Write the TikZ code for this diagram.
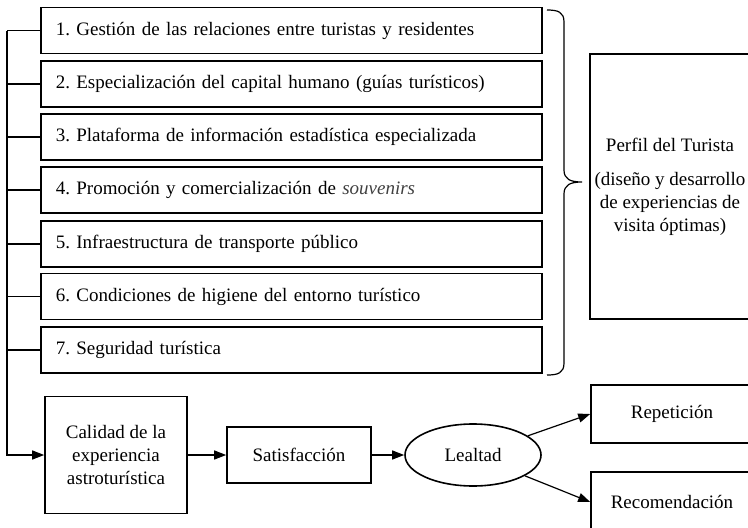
\documentclass[tikz,border=0pt]{standalone}
\usepackage{fontspec}
\setmainfont{Liberation Serif}
\frenchspacing
\usetikzlibrary{arrows.meta,shapes.geometric}
\begin{document}
\begin{tikzpicture}[x=1pt,y=-1pt,
  font=\fontsize{19}{23}\selectfont,
  box/.style={draw,line width=1.6pt,inner sep=0pt},
  item/.style={box,anchor=west,minimum width=501pt,minimum height=46pt,text width=471pt,inner xsep=15pt,align=left},
  conn/.style={line width=1.2pt},
  arr/.style={conn,-{Triangle[length=12pt,width=9pt]}}]
\useasboundingbox (0,0) rectangle (748,528);
\clip (0,0) rectangle (748,528);
% items
\node[item] (i1) at (40,30.5) {1. Gestión de las relaciones entre turistas y residentes};
\node[item] (i2) at (40,84) {2. Especialización del capital humano (guías turísticos)};
\node[item] (i3) at (40,137) {3. Plataforma de información estadística especializada};
\node[item] (i4) at (40,190) {4. Promoción y comercialización de \textcolor{black!75}{\textit{souvenirs}}};
\node[item] (i5) at (40,244) {5. Infraestructura de transporte público};
\node[item] (i6) at (40,296.5) {6. Condiciones de higiene del entorno turístico};
\node[item] (i7) at (40,350) {7. Seguridad turística};
% profile
\node[box,minimum width=160pt,minimum height=265pt,align=center] (perfil) at (670,186.5)
  {Perfil del Turista\\[11pt]\fontsize{19}{21.5}\selectfont (diseño y desarrollo\\ de experiencias de\\ visita óptimas)};
% bottom chain
\node[box,minimum width=142pt,minimum height=117pt,align=center] (cal) at (116,455)
  {\fontsize{19}{22.5}\selectfont Calidad de la\\ experiencia\\ astroturística};
\node[box,minimum width=144pt,minimum height=56pt] (sat) at (299,455) {Satisfacción};
\node[draw,ellipse,line width=1.6pt,minimum width=136pt,minimum height=62pt,inner sep=0pt] (leal) at (473,455) {Lealtad};
\node[box,minimum width=162pt,minimum height=58pt] (rep) at (672,414) {Repetición};
\node[box,minimum width=162pt,minimum height=60pt] (rec) at (672,502) {Recomendación};
% bus on the left
\coordinate (bus) at (7,0);
\draw[conn] (i1.west) -- (i1.west -| bus);
\draw[conn] (i2.west) -- (i2.west -| bus);
\draw[conn] (i3.west) -- (i3.west -| bus);
\draw[conn] (i4.west) -- (i4.west -| bus);
\draw[conn] (i5.west) -- (i5.west -| bus);
\draw[conn] (i6.west) -- (i6.west -| bus);
\draw[conn] (i7.west) -- (i7.west -| bus);
\draw[arr] (i1.west -| bus) |- (cal.west);
% chain arrows
\draw[arr] (cal.east) -- (sat.west);
\draw[arr] (sat.east) -- (leal.west);
\draw[arr] (leal) -- (rep.west);
\draw[arr] (leal) -- (rec.west);
% brace
\draw[line width=1.2pt] (547,10) .. controls (558,10) and (564,12) .. (564,22) -- (564,170)
  .. controls (564,179) and (570,182) .. (582,182)
  .. controls (570,182) and (564,185) .. (564,194) -- (564,363)
  .. controls (564,373) and (558,375) .. (547,375);
\end{tikzpicture}
\end{document}
